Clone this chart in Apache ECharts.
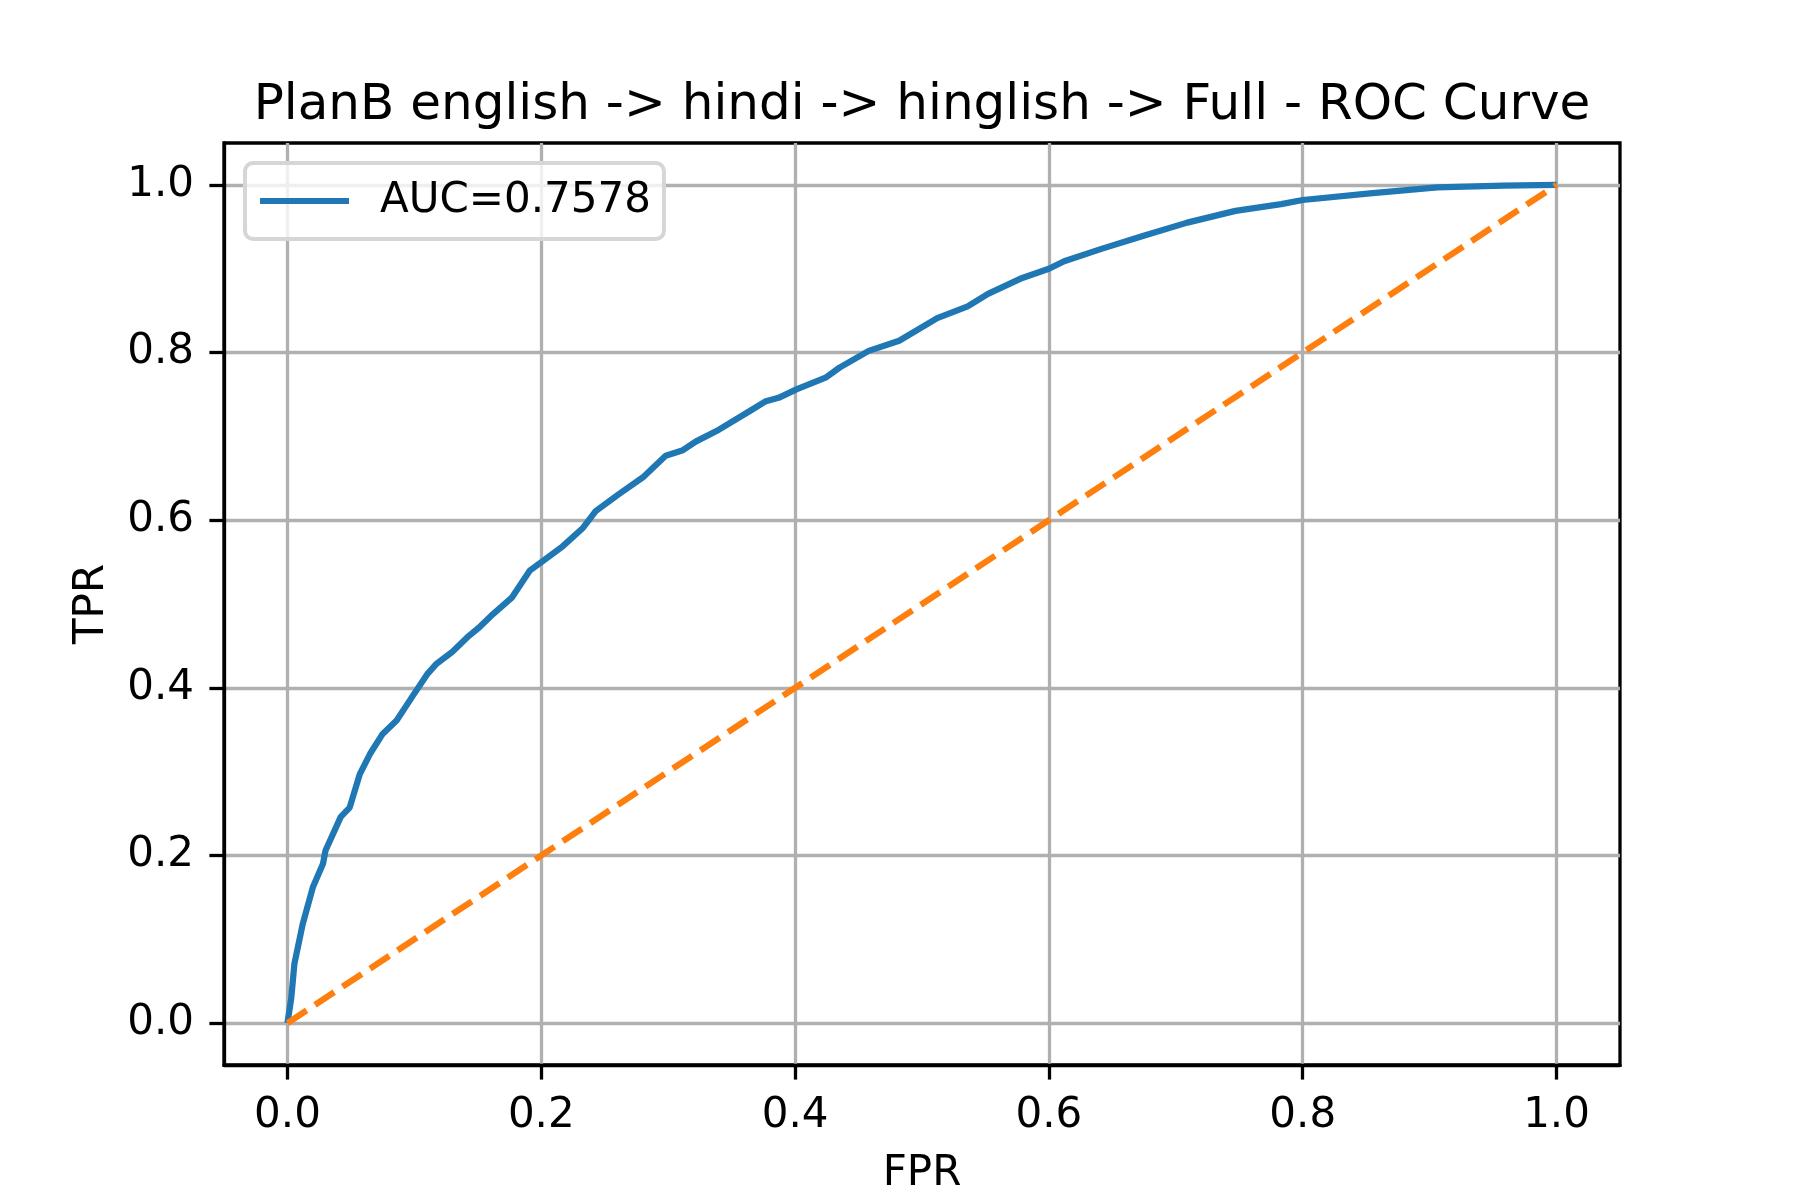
<!DOCTYPE html>
<html>
<head>
<meta charset="utf-8">
<title>ROC Curve</title>
<script src="https://cdn.jsdelivr.net/npm/echarts@6/dist/echarts.min.js"></script>
<style>
    html, body { margin: 0; padding: 0; background: #fff; }
    #chart { width: 1800px; height: 1200px; }
</style>
</head>
<body>
<div id="chart"></div>
<script type="text/javascript">
    // ROC curve
    const fpr = [0, 0.003, 0.0055, 0.012, 0.020, 0.028, 0.030, 0.042, 0.049, 0.057,
        0.065, 0.075, 0.086, 0.099, 0.110, 0.117, 0.130, 0.143, 0.151, 0.162,
        0.177, 0.191, 0.201, 0.217, 0.233, 0.243, 0.261, 0.280, 0.298, 0.311,
        0.322, 0.340, 0.364, 0.377, 0.387, 0.401, 0.424, 0.435, 0.458, 0.482,
        0.512, 0.536, 0.552, 0.579, 0.600, 0.612, 0.642, 0.674, 0.709, 0.747,
        0.783, 0.800, 0.853, 0.906, 0.958, 1.0];
    const tpr = [0, 0.030, 0.071, 0.118, 0.162, 0.190, 0.206, 0.246, 0.257, 0.297,
        0.321, 0.345, 0.361, 0.391, 0.416, 0.428, 0.443, 0.462, 0.472, 0.488,
        0.508, 0.540, 0.551, 0.569, 0.591, 0.611, 0.631, 0.651, 0.677, 0.683,
        0.694, 0.708, 0.730, 0.742, 0.746, 0.756, 0.770, 0.782, 0.802, 0.814,
        0.841, 0.855, 0.870, 0.889, 0.900, 0.909, 0.924, 0.939, 0.955, 0.969,
        0.977, 0.982, 0.990, 0.997, 0.999, 1.0];
    const diagX = [0, 1];
    const diagY = [0, 1];
    const ticks = [0, 0.2, 0.4, 0.6, 0.8, 1.0];
    const curveName = 'AUC=0.7578';
    const chartTitle = 'PlanB english -> hindi -> hinglish -> Full - ROC Curve';

    const font = 'DejaVu Sans';
    const chart = echarts.init(document.getElementById('chart'));

    function axisCommon(name) {
        return {
            type: 'value',
            min: -0.05,
            max: 1.05,
            name: name,
            nameLocation: 'middle',
            nameTextStyle: { fontFamily: font, fontSize: 42, color: '#000' },
            axisLine: { show: true, onZero: false, lineStyle: { color: '#000', width: 3.3 } },
            axisTick: { show: true, inside: false, length: 14.6, customValues: ticks, lineStyle: { color: '#000', width: 3.3 } },
            axisLabel: {
                customValues: ticks,
                margin: 30,
                fontFamily: font, fontSize: 42, color: '#000',
                formatter: function (v) { return v.toFixed(1); }
            },
            splitLine: { show: true, lineStyle: { color: '#b0b0b0', width: 3.3 } }
        };
    }

    const xAxis = axisCommon('FPR');
    xAxis.nameGap = 88;
    const yAxis = axisCommon('TPR');
    yAxis.nameGap = 111;
    yAxis.nameRotate = 90;

    const option = {
        backgroundColor: '#fff',
        animation: false,
        title: {
            text: chartTitle,
            left: 922,
            top: 81,
            textAlign: 'center',
            padding: 0,
            textStyle: { fontFamily: font, fontSize: 50, fontWeight: 'normal', color: '#000' }
        },
        grid: {
            left: 224, right: 180, top: 143, bottom: 132,
            show: true, borderColor: '#000', borderWidth: 3.3
        },
        legend: {
            data: [{ name: curveName, icon: 'rect' }],
            left: 245,
            top: 163,
            orient: 'vertical',
            padding: [17, 13, 17, 15],
            itemWidth: 89,
            itemHeight: 6,
            backgroundColor: 'rgba(255,255,255,0.8)',
            borderColor: '#d6d6d6',
            borderWidth: 4,
            borderRadius: 8,
            textStyle: { fontFamily: font, fontSize: 42, color: '#000', padding: [0, 0, 0, 26] }
        },
        xAxis: xAxis,
        yAxis: yAxis,
        series: [
            {
                name: curveName,
                type: 'line',
                data: fpr.map(function (x, i) { return [x, tpr[i]]; }),
                showSymbol: false,
                symbol: 'none',
                lineStyle: { color: '#1f77b4', width: 6.25 },
                itemStyle: { color: '#1f77b4' },
                z: 3
            },
            {
                name: 'chance',
                type: 'line',
                data: diagX.map(function (x, i) { return [x, diagY[i]]; }),
                showSymbol: false,
                symbol: 'none',
                lineStyle: { color: '#ff7f0e', width: 6.25, type: [23, 10] },
                itemStyle: { color: '#ff7f0e' },
                z: 4
            }
        ]
    };

    chart.setOption(option);
</script>
</body>
</html>
